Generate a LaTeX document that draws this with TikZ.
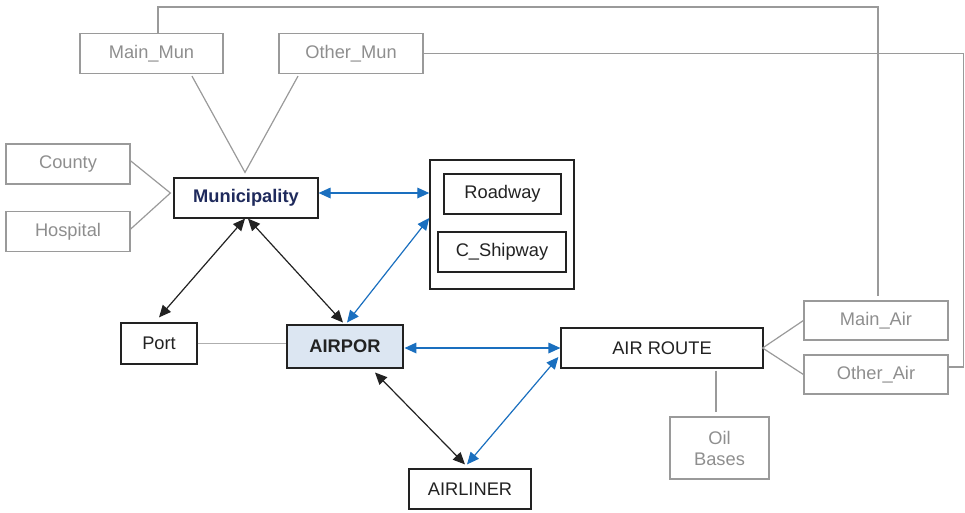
\documentclass[tikz,border=0pt]{standalone}
\usepackage{fontspec}
\setmainfont{Liberation Sans}
\usetikzlibrary{arrows.meta,calc}
\definecolor{gline}{HTML}{9A9A9A}
\definecolor{gtext}{HTML}{8E8E8E}
\definecolor{navy}{HTML}{1F2A5C}
\definecolor{blu}{HTML}{1A6FBF}
\definecolor{apfill}{HTML}{DCE6F2}
\definecolor{ink}{HTML}{222222}
\begin{document}
\begin{tikzpicture}[x=0.75pt,y=-0.75pt,
  txt/.style={font=\fontsize{13.7}{15.75}\selectfont},
  box/.style={txt,draw=ink,line width=0.9pt,rectangle,inner sep=0pt,text=ink},
  gbox/.style={txt,draw=gline,line width=0.9pt,rectangle,inner sep=0pt,text=gtext},
  gl/.style={draw=gline,line width=0.9pt},
  bk/.style={draw=ink,line width=0.9pt,{Triangle[length=9pt,width=8pt]}-{Triangle[length=9pt,width=8pt]}},
  bl/.style={draw=blu,line width=0.9pt,{Triangle[length=9pt,width=8pt]}-{Triangle[length=9pt,width=8pt]}}]
\useasboundingbox (0,0) rectangle (965,512);

% nodes
\node[gbox,minimum width=107.25pt,minimum height=30pt] (mainmun) at (151.5,53.5) {Main\_Mun};
\node[gbox,minimum width=108pt,minimum height=30pt] (othermun) at (351,53.5) {Other\_Mun};
\node[gbox,minimum width=93pt,minimum height=30pt] (county) at (68,164) {County};
\node[gbox,minimum width=93pt,minimum height=30pt] (hospital) at (68,231.5) {Hospital};
\node[box,minimum width=108pt,minimum height=30pt,text=navy,font=\fontsize{13.7}{15.75}\selectfont\bfseries] (muni) at (246,198) {Municipality};
\node[box,line width=1.1pt,minimum width=108pt,minimum height=96.75pt] (cont) at (502,224.5) {};
\node[box,minimum width=87.75pt,minimum height=30pt] (roadway) at (502.5,194) {Roadway};
\node[box,minimum width=96pt,minimum height=30pt] (shipway) at (502,252) {C\_Shipway};
\node[box,minimum width=57pt,minimum height=30.75pt] (port) at (159,343.5) {Port};
\node[box,line width=2.2pt,fill=apfill,minimum width=87pt,minimum height=32.25pt,font=\fontsize{13.7}{15.75}\selectfont\bfseries] (airpor) at (345,346.5) {AIRPOR};
\node[box,minimum width=91.5pt,minimum height=30pt] (airliner) at (470,489) {AIRLINER};
\node[box,minimum width=151.5pt,minimum height=30pt] (airroute) at (662,348) {AIR ROUTE};
\node[gbox,minimum width=108pt,minimum height=29.25pt] (mainair) at (876,320.5) {Main\_Air};
\node[gbox,minimum width=108pt,minimum height=29.25pt] (otherair) at (876,374.5) {Other\_Air};
\node[gbox,minimum width=74.25pt,minimum height=46.5pt,align=center] (oil) at (719.5,448) {Oil\\Bases};

% gray links
\coordinate (mv) at ($(muni.north)+(-1,-5)$);
\coordinate (mh) at ($(muni.west)+(-3,-5)$);
\draw[gl] ($(mainmun.south)+(40.5,2)$) -- (mv) -- ($(othermun.south)+(-53,2)$);
\draw[gl] ($(county.east)+(-1,-4)$) -- (mh) -- ($(hospital.east)+(-1,-1.5)$);
\draw[gl] ($(mainmun.north)+(6.5,0)$) -- ++(0,-26) -| ($(mainair.north)+(2,-4)$);
\draw[gl] (othermun.east) -- ++(540,0) |- ($(otherair.east)+(0,-7.5)$);
\draw[gl,draw=gline!80] (port.east) -- (port.east -| airpor.west);
\coordinate (ar) at ($(airroute.east)+(-1,0)$);
\draw[gl] (mainair.west) -- (ar) -- (otherair.west);
\draw[gl] ($(airroute.south)+(54,2)$) -- ($(oil.north)+(-3.5,-4)$);

% black arrows
\draw[bk] ($(muni.south)+(-1,0)$) -- ($(port.north)+(0,-5)$);
\draw[bk] ($(muni.south)+(2,0)$) -- ($(airpor.north)+(-2,-1)$);
\draw[bk] ($(airpor.south)+(30,3)$) -- ($(airliner.north)+(-5,-4)$);

% blue arrows
\draw[bl] ($(muni.east)+(0,-5)$) -- ($(cont.west)+(0,-31.5)$);
\draw[bl] ($(cont.west)+(0,-6.5)$) -- ($(airpor.north)+(2,-1)$);
\draw[bl] ($(airpor.east)+(0,1.5)$) -- (airroute.west);
\draw[bl] ($(airliner.north)+(-3,-4)$) -- ($(airroute.west)+(-2,9)$);
\end{tikzpicture}
\end{document}
